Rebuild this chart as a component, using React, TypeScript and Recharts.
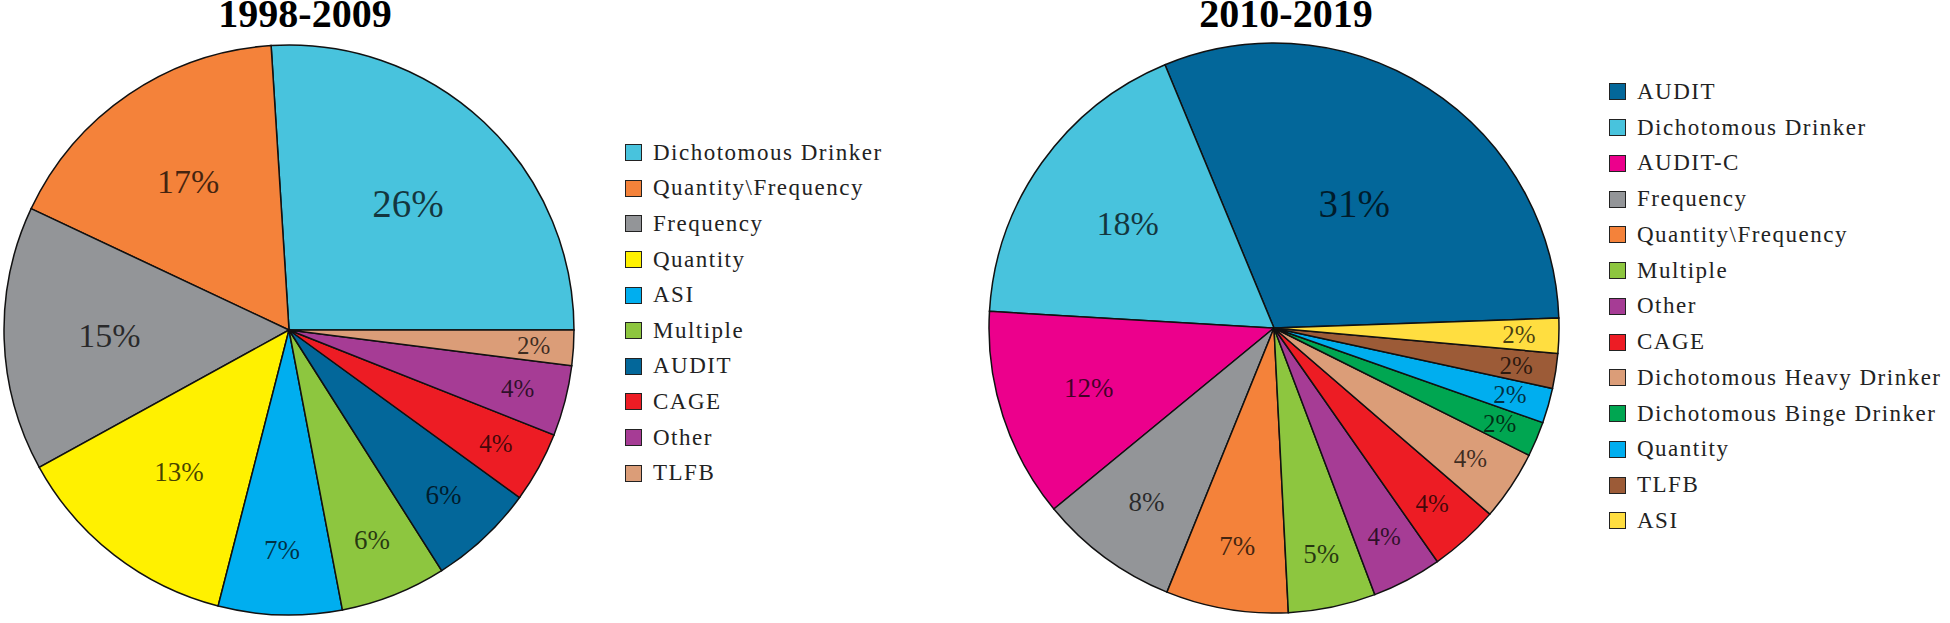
import { PieChart, Pie, Cell, Legend } from "recharts";

// 1998-2009
const leftNames = [
    "Dichotomous Drinker",
    "Quantity\\Frequency",
    "Frequency",
    "Quantity",
    "ASI",
    "Multiple",
    "AUDIT",
    "CAGE",
    "Other",
    "TLFB",
];
const leftValues = [26, 17, 15, 13, 7, 6, 6, 4, 4, 2];
const leftColors = [
    "#48C3DD", "#F4823A", "#939598", "#FFF100", "#00AEEF",
    "#8DC63F", "#03679A", "#ED1C24", "#A63C95", "#DB9D78",
];

// 2010-2019
const rightNames = [
    "AUDIT",
    "Dichotomous Drinker",
    "AUDIT-C",
    "Frequency",
    "Quantity\\Frequency",
    "Multiple",
    "Other",
    "CAGE",
    "Dichotomous Heavy Drinker",
    "Dichotomous Binge Drinker",
    "Quantity",
    "TLFB",
    "ASI",
];
const rightValues = [31, 18, 12, 8, 7, 5, 4, 4, 4, 2, 2, 2, 2];
const rightColors = [
    "#03679A", "#48C3DD", "#EC008C", "#939598", "#F4823A", "#8DC63F", "#A63C95",
    "#ED1C24", "#DB9D78", "#00A651", "#00AEEF", "#9C5B37", "#FFDE40",
];

const SERIF = "Liberation Serif, Times New Roman, serif";
const RAD = Math.PI / 180;

function renderLabel(props: any) {
    const { cx, cy, midAngle, outerRadius, value } = props;
    const frac = value >= 30 ? 0.52 : value >= 25 ? 0.61 : value >= 13 ? 0.63 : Math.min(0.86, 0.9 - 0.018 * value);
    const r = outerRadius * frac;
    const x = cx + r * Math.cos(-midAngle * RAD);
    const y = cy + r * Math.sin(-midAngle * RAD);
    const fs = value >= 25 ? 39 : value >= 15 ? 34 : value >= 5 ? 27 : 25;
    return (
        <text
            x={x}
            y={y}
            textAnchor="middle"
            dominantBaseline="central"
            style={{ fontFamily: SERIF, fontSize: fs }}
            fill="#000"
            fillOpacity={0.72}
        >
            {value}%
        </text>
    );
}

type BlockProps = {
    title: string;
    names: string[];
    values: number[];
    colors: string[];
    left: number;
    cx: number;
    cy: number;
    startAngle: number;
    titleX: number;
    legendLeft: number;
    legendTop: number;
    rowHeight: number;
};

function PieBlock(p: BlockProps) {
    const data = p.names.map((name, i) => ({ name, value: p.values[i], fill: p.colors[i] }));

    // keep the legend in data order (recharts sorts the payload by name otherwise)
    const legendContent = () => (
        <ul style={{ listStyle: "none", margin: 0, padding: 0 }}>
            {data.map((item) => (
                <li
                    key={item.name}
                    style={{
                        display: "flex",
                        alignItems: "center",
                        height: p.rowHeight,
                        fontFamily: SERIF,
                        fontSize: 23,
                        letterSpacing: 1.5,
                        color: "#222",
                        whiteSpace: "nowrap",
                    }}
                >
                    <span
                        style={{
                            width: 17,
                            height: 17,
                            boxSizing: "border-box",
                            border: "1.5px solid #222",
                            background: item.fill,
                            marginRight: 11,
                            flex: "none",
                        }}
                    />
                    <span>{item.name}</span>
                </li>
            ))}
        </ul>
    );

    return (
        <div style={{ position: "absolute", left: p.left, top: 0, width: 975, height: 623 }}>
            <div
                style={{
                    position: "absolute",
                    left: p.titleX - 200,
                    top: 2.5,
                    width: 400,
                    textAlign: "center",
                    fontFamily: SERIF,
                    fontWeight: "bold",
                    fontSize: 40,
                    lineHeight: "22px",
                    color: "#000",
                    zIndex: 2,
                }}
            >
                {p.title}
            </div>
            <PieChart width={975} height={623} margin={{ top: 0, right: 0, bottom: 0, left: 0 }}>
                <Pie
                    data={data}
                    dataKey="value"
                    nameKey="name"
                    cx={p.cx}
                    cy={p.cy}
                    outerRadius={285}
                    startAngle={p.startAngle}
                    endAngle={p.startAngle + 360}
                    stroke="#111"
                    strokeWidth={1.5}
                    label={renderLabel}
                    labelLine={false}
                    isAnimationActive={false}
                >
                    {data.map((d) => (
                        <Cell key={d.name} fill={d.fill} />
                    ))}
                </Pie>
                <Legend
                    layout="vertical"
                    align="center"
                    verticalAlign="middle"
                    content={legendContent}
                    wrapperStyle={{ left: p.legendLeft, top: p.legendTop, width: 330 }}
                />
            </PieChart>
        </div>
    );
}

export default function App() {
    return (
        <div
            style={{
                position: "absolute",
                left: 0,
                top: 0,
                width: 1950,
                height: 623,
                background: "#fff",
                overflow: "hidden",
            }}
        >
            <PieBlock
                title="1998-2009"
                names={leftNames}
                values={leftValues}
                colors={leftColors}
                left={0}
                cx={289}
                cy={330}
                startAngle={0}
                titleX={305}
                legendLeft={625}
                legendTop={135}
                rowHeight={35.6}
            />
            <PieBlock
                title="2010-2019"
                names={rightNames}
                values={rightValues}
                colors={rightColors}
                left={975}
                cx={299}
                cy={328}
                startAngle={2}
                titleX={311}
                legendLeft={634}
                legendTop={74}
                rowHeight={35.75}
            />
        </div>
    );
}
